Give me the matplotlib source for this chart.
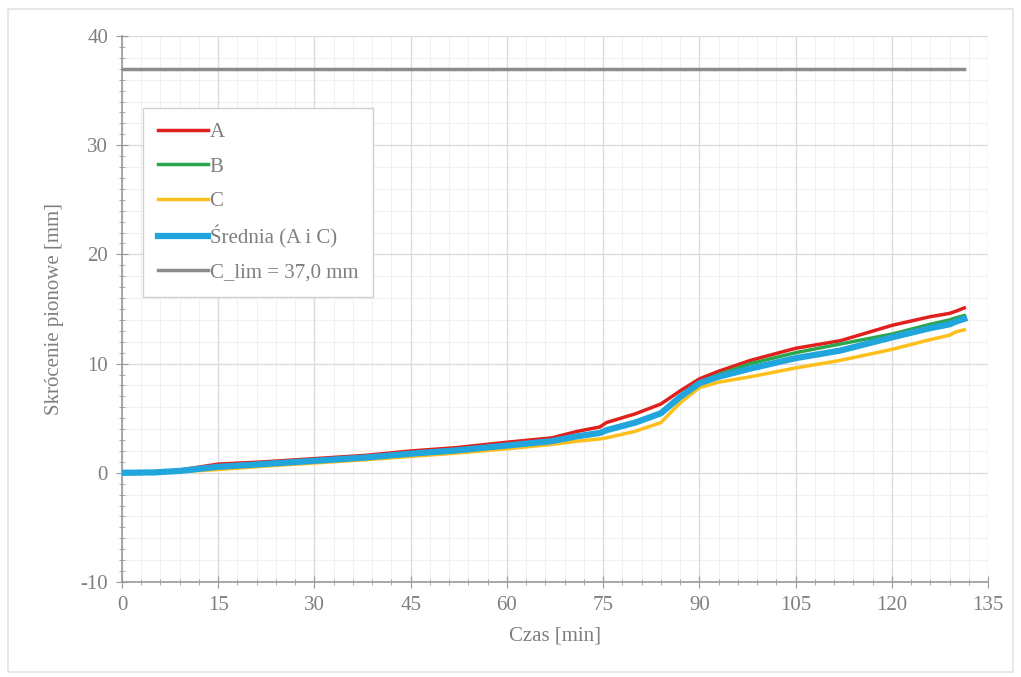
import numpy as np
import matplotlib
matplotlib.use("Agg")
import matplotlib.pyplot as plt
from matplotlib.ticker import MultipleLocator
from matplotlib.patches import Rectangle

# time axis [min]
czas = [0, 5, 9, 15, 22, 30, 38, 45, 52, 60, 67, 71, 74.5, 75.5, 80, 84, 87,
        90, 93, 98, 105, 112, 120, 126, 129, 130, 131.3]

# vertical shortening [mm]
seria_a = [0, 0.05, 0.25, 0.8, 1.0, 1.3, 1.6, 2.0, 2.3, 2.8, 3.2, 3.8, 4.2, 4.6,
           5.4, 6.3, 7.5, 8.6, 9.3, 10.3, 11.4, 12.1, 13.5, 14.3, 14.6, 14.8, 15.1]
seria_b = [0, 0.04, 0.2, 0.6, 0.85, 1.15, 1.45, 1.8, 2.1, 2.5, 2.9, 3.4, 3.7, 3.9,
           4.6, 5.5, 7.0, 8.3, 9.0, 10.0, 11.0, 11.8, 12.7, 13.6, 14.0, 14.2, 14.4]
seria_c = [0, 0.02, 0.1, 0.3, 0.6, 0.9, 1.2, 1.5, 1.8, 2.2, 2.6, 2.9, 3.1, 3.2,
           3.8, 4.6, 6.4, 7.8, 8.3, 8.8, 9.6, 10.3, 11.3, 12.2, 12.6, 12.9, 13.1]

c_lim = 37.0
lim_x = [0, 131.3]

# average of A and C
srednia = (np.array(seria_a) + np.array(seria_c)) / 2

plt.rcParams["font.family"] = ["Liberation Serif", "DejaVu Serif"]
plt.rcParams["axes.unicode_minus"] = False
txt = "#7f7f7f"

fig = plt.figure(figsize=(10.21, 6.77), dpi=100)
ax = fig.add_axes([0.1195, 0.1403, 0.8482, 0.8065])

ax.plot(lim_x, [c_lim, c_lim], color="#8c8c8c", lw=2.5, label="C_lim = 37,0 mm", zorder=3)
ax.plot(czas, seria_a, color="#e0201c", lw=2.5, label="A", zorder=4)
ax.plot(czas, seria_b, color="#2ca64e", lw=2.5, label="B", zorder=4)
ax.plot(czas, seria_c, color="#ffbf1a", lw=2.5, label="C", zorder=4)
ax.plot(czas, srednia, color="#20a6dd", lw=4.5, label="Średnia (A i C)", zorder=5)

ax.set_xlim(0, 135)
ax.set_ylim(-10, 40)
ax.xaxis.set_major_locator(MultipleLocator(15))
ax.xaxis.set_minor_locator(MultipleLocator(3))
ax.yaxis.set_major_locator(MultipleLocator(10))
ax.yaxis.set_minor_locator(MultipleLocator(1))

ax.grid(which="major", color="#dcdcdc", lw=1.0, zorder=0)
ax.xaxis.grid(which="minor", color="#f0f0f0", lw=0.8, zorder=0)
for yy in np.arange(-8, 40, 2):
    if yy % 10 != 0:
        ax.axhline(yy, color="#f0f0f0", lw=0.8, zorder=0)
ax.set_axisbelow(True)

for s in ["top", "right"]:
    ax.spines[s].set_visible(False)
for s in ["left", "bottom"]:
    ax.spines[s].set_color("#9a9a9a")
    ax.spines[s].set_linewidth(1.2)

ax.tick_params(which="major", direction="inout", length=8, color="#9a9a9a",
               labelsize=15, labelcolor=txt, pad=6)
ax.tick_params(which="minor", direction="inout", length=5, color="#9a9a9a")

ax.set_xlabel("Czas [min]", fontsize=15, color=txt, labelpad=8)
ax.set_ylabel("Skrócenie pionowe [mm]", fontsize=15, color=txt, labelpad=12)

h, l = ax.get_legend_handles_labels()
order = [1, 2, 3, 4, 0]
leg = ax.legend([h[i] for i in order], [l[i] for i in order],
                loc="upper left", bbox_to_anchor=(0.140, 0.840),
                bbox_transform=fig.transFigure, fontsize=15, frameon=True,
                fancybox=False, edgecolor="#d0d0d0", framealpha=1,
                handlelength=2.4, handletextpad=0.1, labelspacing=0.7,
                borderpad=0.7, borderaxespad=0)
for t in leg.get_texts():
    t.set_color(txt)
leg.get_frame().set_linewidth(1.0)
leg.set_zorder(10)

fig.patches.append(Rectangle((0.008, 0.008), 0.984, 0.978, transform=fig.transFigure,
                             fill=False, edgecolor="#e3e3e3", lw=1.2))

fig.savefig("out.png", dpi=100)
